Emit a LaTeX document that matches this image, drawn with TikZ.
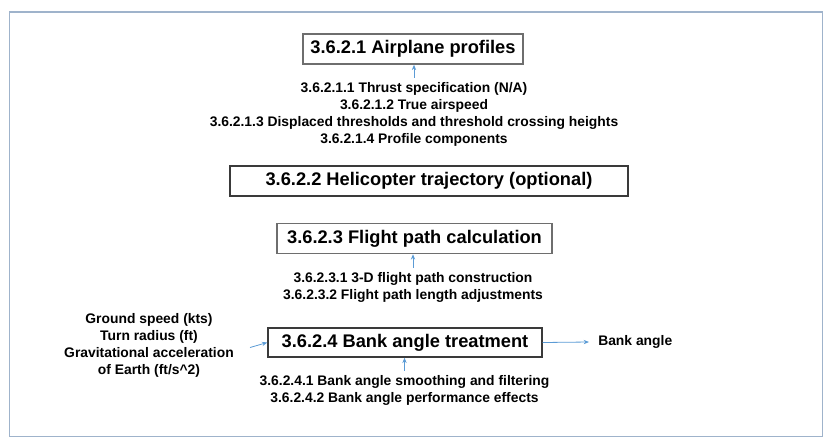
\documentclass[tikz,border=0pt]{standalone}
\usepackage{fontspec}
\setmainfont{Liberation Sans}
\usetikzlibrary{arrows.meta}
\definecolor{framec}{HTML}{9FB3CB}
\definecolor{boxc}{HTML}{6E6E6E}
\definecolor{boxd}{HTML}{3A3A3A}
\definecolor{arrc}{HTML}{5B9BD5}
\tikzset{
  titlebox/.style={draw=boxc, line width=1.1pt, inner sep=0pt, align=center,
    font=\bfseries\fontsize{13.7}{16}\selectfont},
  subtext/.style={align=center, inner sep=0pt,
    font=\bfseries\fontsize{10.4}{12.6}\selectfont},
  flow/.style={draw=arrc, line width=0.6pt, -{Stealth[length=4pt,width=3.2pt]}},
}
\begin{document}
\begin{tikzpicture}[x=0.75pt,y=-0.75pt]
\useasboundingbox (0,0) rectangle (830,443);
\draw[framec, line width=1.2pt] (9.5,12) rectangle (822.5,436.5);

\node[titlebox, minimum width=220*0.75pt, minimum height=30*0.75pt] (b1) at (413,49) {3.6.2.1 Airplane profiles};
\node[subtext] (t1) at (414,114.5) {3.6.2.1.1 Thrust specification (N/A)\\3.6.2.1.2 True airspeed\\3.6.2.1.3 Displaced thresholds and threshold crossing heights\\3.6.2.1.4 Profile components};
\draw[flow] ([yshift=3.5pt]t1.north) -- (t1.north |- b1.south);

\node[titlebox, draw=boxd, minimum width=398*0.75pt, minimum height=30*0.75pt] (b2) at (429,181) {3.6.2.2 Helicopter trajectory (optional)};

\node[titlebox, minimum width=275*0.75pt, minimum height=30*0.75pt] (b3) at (414.5,238.5) {3.6.2.3 Flight path calculation};
\node[subtext] (t3) at (413,287.5) {3.6.2.3.1 3-D flight path construction\\3.6.2.3.2 Flight path length adjustments};
\draw[flow] ([yshift=3.5pt]t3.north) -- (t3.north |- b3.south);

\node[titlebox, draw=boxd, minimum width=274*0.75pt, minimum height=29*0.75pt] (b4) at (405,342.5) {3.6.2.4 Bank angle treatment};
\node[subtext] (tl) at (149,345.5) {Ground speed (kts)\\Turn radius (ft)\\Gravitational acceleration\\of Earth (ft/s\^{}2)};
\node[subtext, anchor=west, inner xsep=9*0.75pt] (ba) at (589,342) {Bank angle};
\node[subtext] (t4) at (404.5,390.5) {3.6.2.4.1 Bank angle smoothing and filtering\\3.6.2.4.2 Bank angle performance effects};

\draw[flow] ([xshift=12pt,yshift=-1.5pt]tl.east) -- (b4.west);
\draw[flow] (b4.east) -- (ba.west);
\draw[flow] ([yshift=3.5pt]t4.north) -- (t4.north |- b4.south);
\end{tikzpicture}
\end{document}
